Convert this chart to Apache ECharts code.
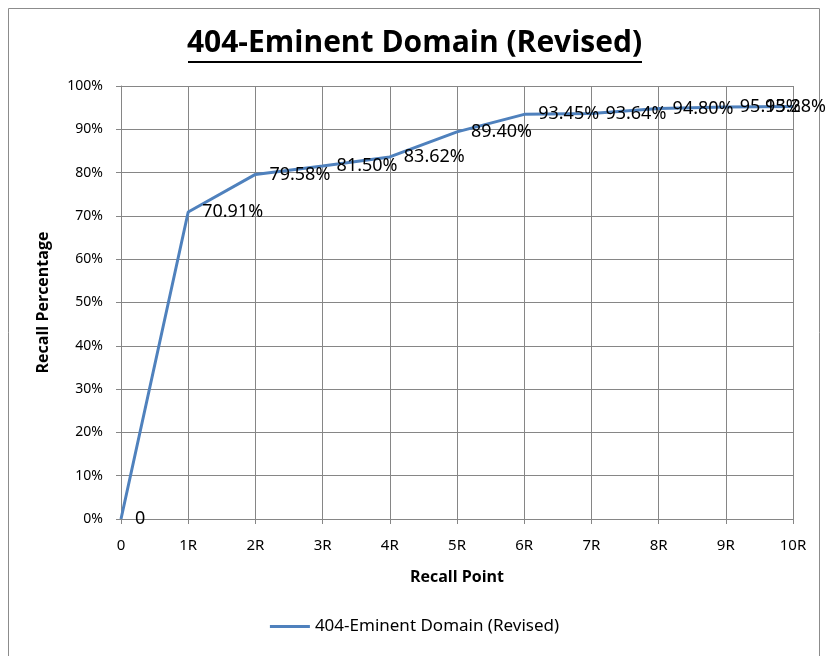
<!DOCTYPE html>
<html>
<head>
<meta charset="utf-8">
<script src="https://cdn.jsdelivr.net/npm/echarts@6/dist/echarts.min.js"></script>
<style>
  html, body { margin: 0; padding: 0; background: #fff; }
  #chart { width: 829px; height: 656px; }
</style>
</head>
<body>
<div id="chart"></div>
<script>
// recall points on the x axis
const recallPoints = ['0', '1R', '2R', '3R', '4R', '5R', '6R', '7R', '8R', '9R', '10R'];
// recall percentage per point
const recallValues = [0, 70.91, 79.58, 81.50, 83.62, 89.40, 93.45, 93.64, 94.80, 95.13, 95.28];
const seriesName = '404-Eminent Domain (Revised)';

let myChart = echarts.init(document.getElementById('chart'));

let option = {
    animation: false,
    title: {
        text: seriesName,
        left: 'center',
        top: 23,
        textStyle: {
            fontFamily: 'Open Sans',
            fontSize: 30,
            fontWeight: 'bold',
            color: '#000'
        }
    },
    graphic: [
        {
            // chart frame
            type: 'rect',
            shape: { x: 8.5, y: 8.5, width: 811, height: 660 },
            style: { fill: 'none', stroke: '#8c8c8c', lineWidth: 1 }
        },
        {
            // title underline
            type: 'line',
            shape: { x1: 188, y1: 62, x2: 642, y2: 62 },
            style: { stroke: '#000', lineWidth: 2 }
        }
    ],
    grid: {
        left: 121,
        right: 36,
        top: 86,
        bottom: 137
    },
    legend: {
        bottom: 16,
        left: 'center',
        itemWidth: 40,
        icon: 'path://M0,0 L40,0 L40,3 L0,3 Z',
        textStyle: { fontFamily: 'Noto Sans', fontSize: 17, color: '#000' },
        data: [seriesName]
    },
    xAxis: {
        type: 'category',
        data: recallPoints,
        boundaryGap: false,
        name: 'Recall Point',
        nameLocation: 'middle',
        nameGap: 50,
        nameTextStyle: { fontFamily: 'Open Sans', fontWeight: 'bold', fontSize: 16, color: '#000' },
        axisLine: { lineStyle: { color: '#868686' } },
        axisTick: { show: true, alignWithLabel: true, length: 5, lineStyle: { color: '#868686' } },
        axisLabel: { fontFamily: 'Noto Sans', fontSize: 15, color: '#000', margin: 19 },
        splitLine: { show: true, lineStyle: { color: '#868686' } }
    },
    yAxis: {
        type: 'value',
        min: 0,
        max: 100,
        interval: 10,
        name: 'Recall Percentage',
        nameLocation: 'middle',
        nameGap: 70,
        nameTextStyle: { fontFamily: 'Open Sans', fontWeight: 'bold', fontSize: 16, color: '#000' },
        axisLine: { show: true, lineStyle: { color: '#868686' } },
        axisTick: { show: true, length: 5, lineStyle: { color: '#868686' } },
        axisLabel: {
            fontFamily: 'Noto Sans', fontSize: 14, color: '#000', margin: 18,
            formatter: (v) => v + '%'
        },
        splitLine: { lineStyle: { color: '#868686' } }
    },
    series: [
        {
            name: seriesName,
            type: 'line',
            data: recallValues,
            symbol: 'circle',
            symbolSize: 0,
            showAllSymbol: true,
            lineStyle: { color: '#4f81bd', width: 3 },
            itemStyle: { color: '#4f81bd' },
            label: {
                show: true,
                position: 'right',
                distance: 14,
                offset: [0, 4],
                fontFamily: 'Noto Sans',
                fontSize: 18,
                color: '#000',
                formatter: (p) => p.value === 0 ? '0' : p.value.toFixed(2) + '%'
            },
            // 最后一个标签超出画框时往回推，和原图一样会压住前一个
            labelLayout: function (params) {
                let rect = params.labelRect;
                if (rect.x + rect.width > 826) {
                    return { dx: 826 - (rect.x + rect.width), hideOverlap: false };
                }
                return { hideOverlap: false };
            }
        }
    ]
};

myChart.setOption(option);
</script>
</body>
</html>
